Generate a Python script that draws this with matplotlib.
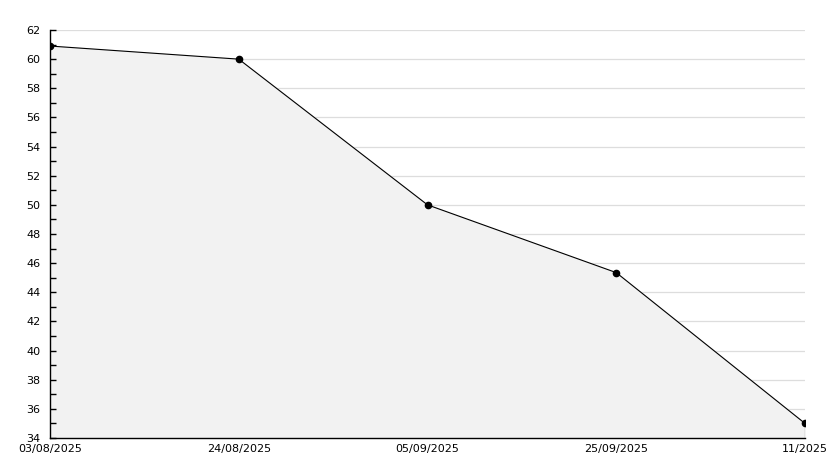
import matplotlib
matplotlib.use("Agg")
import matplotlib.pyplot as plt
import numpy as np

# data
dates = ["03/08/2025", "24/08/2025", "05/09/2025", "25/09/2025", "11/2025"]
values = [60.9, 60.0, 50.0, 45.35, 35.0]
y_min, y_max = 34, 62

fig = plt.figure(figsize=(8.34, 4.68), dpi=100)
ax = fig.add_axes([50 / 834, 30 / 468, 755 / 834, 408 / 468])

x = np.arange(len(values))
ax.fill_between(x, values, y_min, color="#f2f2f2", zorder=1)
ax.plot(x, values, color="black", lw=0.8, zorder=3)
ax.plot([x[-1], x[-1]], [y_min, values[-1]], color="black", lw=0.8, zorder=3)
ax.plot(x, values, "o", color="black", ms=4.5, zorder=4)

ax.set_xlim(x[0], x[-1])
ax.set_ylim(y_min, y_max)
ax.set_yticks(np.arange(y_min, y_max + 1, 2))
ax.set_yticks(np.arange(y_min + 1, y_max, 2), minor=True)
ax.set_xticks(x)
ax.set_xticklabels(dates)

for v in np.arange(y_min + 2, y_max + 1, 2):
    ax.axhline(v, color="#dddddd", lw=0.9, zorder=0)

for s in ["top", "right"]:
    ax.spines[s].set_visible(False)
ax.spines["left"].set_linewidth(1.0)
ax.spines["bottom"].set_linewidth(1.0)

ax.tick_params(axis="y", which="both", direction="in", length=4, width=1,
               labelsize=8, pad=7)
ax.tick_params(axis="x", length=0, labelsize=8, pad=4)

fig.savefig("out.png", dpi=100)
